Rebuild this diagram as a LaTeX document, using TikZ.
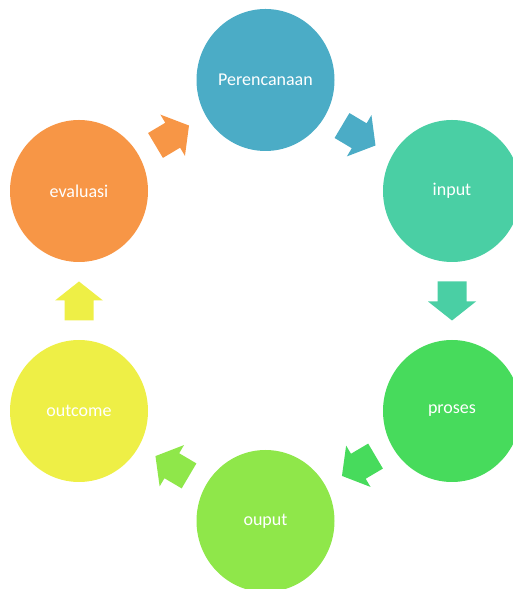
\documentclass[tikz,border=0pt]{standalone}
\usepackage{fontspec}
\setmainfont{Carlito}
\usetikzlibrary{shapes.geometric,calc}

\definecolor{cblue}{HTML}{4BACC6}
\definecolor{cteal}{HTML}{4ACFA4}
\definecolor{cgreen}{HTML}{47DB5C}
\definecolor{clime}{HTML}{8FE74A}
\definecolor{cyellow}{HTML}{EEEF46}
\definecolor{corange}{HTML}{F79646}

\tikzset{
  stage/.style={ellipse, minimum width=138, minimum height=142, inner sep=0,
    text=white, font=\fontsize{18}{22}\selectfont}
}

% block arrow half way between two stages, pointing from #1 to #2
\newcommand{\cyclearrow}[3]{%
  \path let \p1=($(#2)-(#1)$) in
    \pgfextra{\pgfmathsetmacro\cycang{atan2(\y1,\x1)}\global\let\cycang\cycang};
  \fill[#3, shift={($(#1)!0.5!(#2)$)}, rotate=\cycang]
    (-19.5,-14.5) -- (0.5,-14.5) -- (0.5,-24) -- (19.5,0) --
    (0.5,24) -- (0.5,14.5) -- (-19.5,14.5) -- cycle;
}

\begin{document}
\begin{tikzpicture}[x=1pt, y=1pt]
\useasboundingbox (0,0) rectangle (512,589);
\node[stage, fill=cblue] (P) at (265.5,509){Perencanaan};
\node[stage, fill=cteal] (In) at (452,398){input};
\node[stage, fill=cgreen] (Pr) at (452,178){proses};
\node[stage, fill=clime] (Ou) at (265.5,68){ouput};
\node[stage, fill=cyellow] (Oc) at (79,178){outcome};
\node[stage, fill=corange] (Ev) at (79,398){evaluasi};

\cyclearrow{P}{In}{cblue}
\cyclearrow{In}{Pr}{cteal}
\cyclearrow{Pr}{Ou}{cgreen}
\cyclearrow{Ou}{Oc}{clime}
\cyclearrow{Oc}{Ev}{cyellow}
\cyclearrow{Ev}{P}{corange}

\end{tikzpicture}
\end{document}
